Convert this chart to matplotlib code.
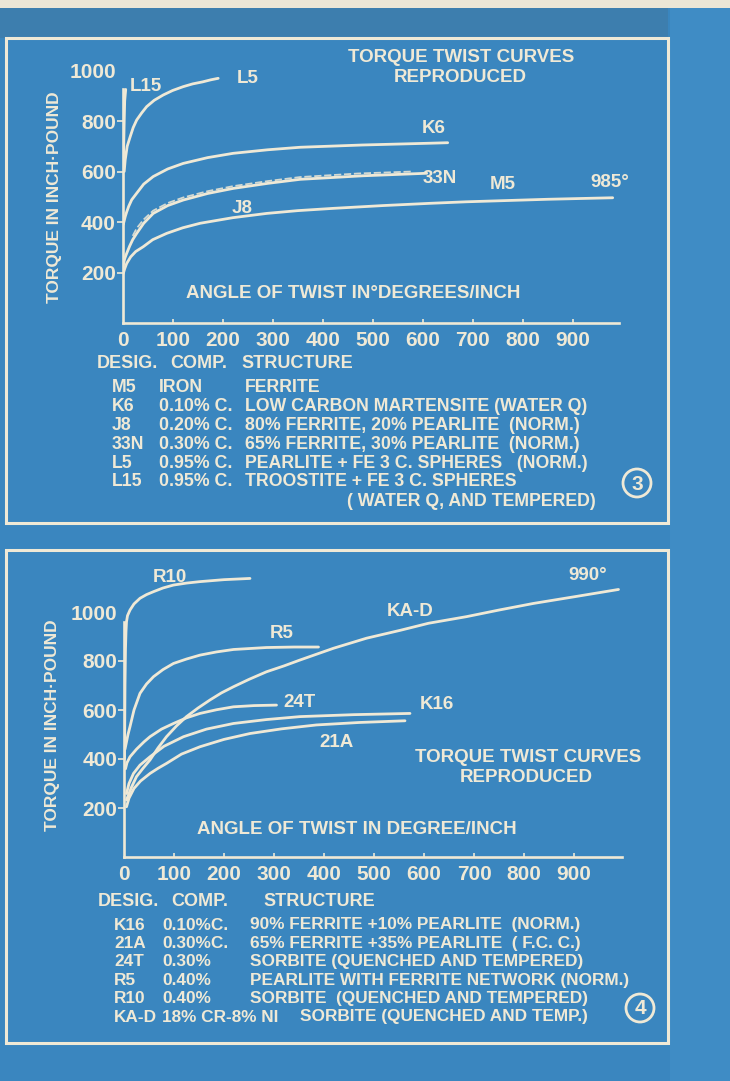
"""torque twist curves, blueprint style (two panels)"""

import matplotlib.pyplot as plt
from matplotlib.patches import Rectangle, Circle

W, H = 730, 1081

# ---- panel 3 curves (angle deg/inch, torque inch-pound) ----
L15_X = [1, 2, 3, 4, 6]
L15_Y = [600, 700, 800, 880, 925]
L5_X = [3, 5, 9, 15, 21, 28, 38, 48, 63, 81, 100, 121, 140, 160, 176, 191]
L5_Y = [600, 646, 700, 738, 774, 804, 832, 857, 882, 903, 921, 936, 947, 955, 963, 969]
K6_X = [1, 3, 5, 8, 12, 18, 28, 42, 61, 90, 121, 170, 221, 290, 355, 480, 615, 650]
K6_Y = [390, 405, 421, 440, 462, 488, 514, 550, 580, 610, 632, 655, 672, 686, 696, 705, 712, 714]
N33_X = [1, 4, 8, 14, 20, 28, 42, 61, 90, 121, 170, 221, 290, 355, 480, 608]
N33_Y = [230, 255, 276, 305, 330, 355, 395, 434, 465, 487, 513, 533, 553, 569, 583, 593]
J8_X = [20, 28, 42, 61, 90, 121, 170, 221, 290, 355, 470, 580]
J8_Y = [345, 375, 410, 445, 475, 497, 522, 542, 562, 578, 592, 600]
M5_X = [1, 4, 8, 16, 26, 41, 60, 88, 120, 155, 220, 288, 350, 421, 520, 615, 687, 850, 980]
M5_Y = [195, 215, 236, 262, 283, 302, 330, 355, 377, 395, 417, 434, 445, 454, 465, 474, 480, 490, 496]

# ---- panel 4 curves ----
R10_X = [1, 2, 3, 4, 5, 7, 12, 20, 32, 45, 59, 78, 99, 125, 152, 200, 252]
R10_Y = [400, 700, 850, 920, 960, 985, 1008, 1033, 1056, 1071, 1083, 1098, 1110, 1118, 1124, 1132, 1137]
R5_X = [2, 5, 8, 12, 20, 32, 45, 59, 78, 99, 125, 152, 185, 219, 285, 340, 389]
R5_Y = [440, 470, 500, 532, 600, 668, 706, 736, 765, 790, 808, 824, 837, 847, 855, 857, 857]
KAD_X = [5, 15, 25, 38, 52, 68, 85, 105, 125, 148, 172, 195, 219, 250, 285, 320, 352,
         419, 485, 552, 609, 685, 750, 819, 900, 989]
KAD_Y = [233, 285, 328, 362, 396, 445, 491, 535, 573, 608, 641, 670, 695, 725, 756, 780, 804,
         852, 893, 925, 954, 981, 1008, 1035, 1062, 1092]
T24_X = [3, 6, 12, 25, 40, 52, 75, 99, 125, 152, 185, 219, 260, 305]
T24_Y = [360, 385, 409, 440, 470, 491, 522, 545, 568, 586, 601, 613, 618, 620]
K16_X = [5, 10, 19, 32, 52, 80, 119, 165, 219, 285, 352, 460, 572]
K16_Y = [259, 300, 341, 375, 409, 452, 491, 522, 545, 561, 573, 581, 586]
A21_X = [5, 10, 20, 33, 52, 68, 85, 115, 152, 200, 252, 315, 385, 470, 562]
A21_Y = [205, 240, 280, 310, 341, 362, 382, 420, 450, 480, 504, 523, 539, 549, 556]

X_TICKS = [0, 100, 200, 300, 400, 500, 600, 700, 800, 900]
Y_TICKS = [200, 400, 600, 800, 1000]

TOP_DESIG = ["M5", "K6", "J8", "33N", "L5", "L15"]
TOP_COMP = ["IRON", "0.10% C.", "0.20% C.", "0.30% C.", "0.95% C.", "0.95% C."]
TOP_STRUCT = [
    "FERRITE",
    "LOW CARBON MARTENSITE (WATER Q)",
    "80% FERRITE, 20% PEARLITE  (NORM.)",
    "65% FERRITE, 30% PEARLITE  (NORM.)",
    "PEARLITE + FE 3 C. SPHERES   (NORM.)",
    "TROOSTITE + FE 3 C. SPHERES",
]
TOP_EXTRA = "( WATER Q, AND TEMPERED)"

BOT_DESIG = ["K16", "21A", "24T", "R5", "R10", "KA-D"]
BOT_COMP = ["0.10%C.", "0.30%C.", "0.30%", "0.40%", "0.40%", "18% CR-8% NI"]
BOT_STRUCT = [
    "90% FERRITE +10% PEARLITE  (NORM.)",
    "65% FERRITE +35% PEARLITE  ( F.C. C.)",
    "SORBITE (QUENCHED AND TEMPERED)",
    "PEARLITE WITH FERRITE NETWORK (NORM.)",
    "SORBITE  (QUENCHED AND TEMPERED)",
    "SORBITE (QUENCHED AND TEMP.)",
]

PAPER = "#3a86bf"
BAND = "#3d7eae"
RIGHT = "#3f8cc5"
INK = "#efe9d6"

plt.rcParams["font.family"] = ["Liberation Sans", "DejaVu Sans"]
plt.rcParams["font.weight"] = "bold"

fig = plt.figure(figsize=(W / 100, H / 100), dpi=100, facecolor=PAPER)

# pixel-space overlay for frames and lettering
bg = fig.add_axes([0, 0, 1, 1], zorder=0)
bg.set_xlim(0, W)
bg.set_ylim(H, 0)
bg.axis("off")

bg.add_patch(Rectangle((0, 0), W, 8, color="#ebe6d6", lw=0))
bg.add_patch(Rectangle((0, 8), 668, 30, color=BAND, lw=0))
bg.add_patch(Rectangle((670, 8), W - 670, H, color=RIGHT, lw=0))
for y0, y1 in [(38, 523), (550, 1043)]:
    bg.add_patch(Rectangle((6, y0), 662, y1 - y0, fill=False, ec=INK, lw=2.2))


def px_axes(x0, y0, xpx, ypx, xmax, ymax):
    """axes whose data origin sits at pixel (x0, y0)"""
    w = xmax * xpx
    h = ymax * ypx
    ax = fig.add_axes([x0 / W, 1 - y0 / H, w / W, h / H], zorder=1)
    ax.set_xlim(0, xmax)
    ax.set_ylim(0, ymax)
    ax.patch.set_alpha(0)
    for s in ax.spines.values():
        s.set_visible(False)
    return ax


def style_axes(ax, ytop, xend):
    ax.plot([0, 0], [0, ytop], color=INK, lw=1.9, clip_on=False)
    ax.plot([0, xend], [0, 0], color=INK, lw=1.9, clip_on=False)
    ax.set_xticks(X_TICKS)
    ax.set_xticklabels([str(v) for v in X_TICKS])
    ax.set_yticks(Y_TICKS)
    ax.set_yticklabels([str(v) for v in Y_TICKS])
    ax.tick_params(axis="x", direction="in", length=3, width=1.2, color=INK,
                   labelcolor=INK, labelsize=15, pad=6)
    ax.tick_params(axis="y", direction="out", length=4, width=1.2, color=INK,
                   labelcolor=INK, labelsize=15, pad=1)
    ax.xaxis.get_major_ticks()[0].tick1line.set_visible(False)
    ax.yaxis.get_major_ticks()[-1].tick1line.set_visible(False)


def curve(ax, xs, ys, **kw):
    ax.plot(xs, ys, color=INK, lw=2.0, solid_capstyle="round",
            solid_joinstyle="round", **kw)


def label(ax, x, y, s, size=13.5):
    ax.text(x, y, s, color=INK, fontsize=size, ha="center", va="center")


# ---------- panel 3 ----------
ax1 = px_axes(122.7, 323, 0.5, 0.2525, 1000, 1000)
style_axes(ax1, 925, 993)
curve(ax1, L15_X, L15_Y)
curve(ax1, L5_X, L5_Y)
curve(ax1, K6_X, K6_Y)
curve(ax1, N33_X, N33_Y)
ax1.plot(J8_X, J8_Y, color=INK, lw=1.3, ls=(0, (4, 1.5)), alpha=0.85)
curve(ax1, M5_X, M5_Y)
label(ax1, 46, 935, "L15")
label(ax1, 249, 970, "L5")
label(ax1, 621, 772, "K6")
label(ax1, 635, 574, "33N")
label(ax1, 761, 547, "M5")
label(ax1, 975, 556, "985°")
label(ax1, 239, 455, "J8")

bg.text(461, 58, "TORQUE TWIST CURVES", color=INK, fontsize=13.5, ha="center", va="center")
bg.text(460, 78, "REPRODUCED", color=INK, fontsize=13.5, ha="center", va="center")
bg.text(353, 294, "ANGLE OF TWIST IN°DEGREES/INCH", color=INK, fontsize=13.5,
        ha="center", va="center")
bg.text(55, 197, "TORQUE IN INCH·POUND", color=INK, fontsize=12.5, rotation=90,
        ha="center", va="center")

# legend table 3
bg.text(97, 363, "DESIG.", color=INK, fontsize=13, va="center")
bg.text(170, 363, "COMP.", color=INK, fontsize=13, va="center")
bg.text(241, 363, "STRUCTURE", color=INK, fontsize=13, va="center")
for i, (d, c, s) in enumerate(zip(TOP_DESIG, TOP_COMP, TOP_STRUCT)):
    y = 388 + i * 18.8
    bg.text(112, y, d, color=INK, fontsize=12.8, va="center")
    bg.text(159, y, c, color=INK, fontsize=12.8, va="center")
    bg.text(245, y, s, color=INK, fontsize=12.8, va="center")
bg.text(347, 501, TOP_EXTRA, color=INK, fontsize=12.8, va="center")
bg.add_patch(Circle((637, 483), 14, fill=False, ec=INK, lw=2))
bg.text(637, 484, "3", color=INK, fontsize=15, ha="center", va="center")

# ---------- panel 4 ----------
ax2 = px_axes(124, 857, 0.5, 0.245, 1000, 1200)
style_axes(ax2, 960, 995)
curve(ax2, R10_X, R10_Y)
curve(ax2, R5_X, R5_Y)
curve(ax2, KAD_X, KAD_Y)
curve(ax2, T24_X, T24_Y)
curve(ax2, K16_X, K16_Y)
curve(ax2, A21_X, A21_Y)
label(ax2, 92, 1139, "R10")
label(ax2, 316, 914, "R5")
label(ax2, 352, 629, "24T")
label(ax2, 626, 621, "K16")
label(ax2, 426, 469, "21A")
label(ax2, 572, 1004, "KA-D")
label(ax2, 928, 1147, "990°")

bg.text(528, 758, "TORQUE TWIST CURVES", color=INK, fontsize=13.5, ha="center", va="center")
bg.text(526, 777, "REPRODUCED", color=INK, fontsize=13.5, ha="center", va="center")
bg.text(357, 830, "ANGLE OF TWIST IN DEGREE/INCH", color=INK, fontsize=13.5,
        ha="center", va="center")
bg.text(53, 725, "TORQUE IN INCH·POUND", color=INK, fontsize=12.5, rotation=90,
        ha="center", va="center")

bg.text(98, 902, "DESIG.", color=INK, fontsize=13, va="center")
bg.text(171, 902, "COMP.", color=INK, fontsize=13, va="center")
bg.text(263, 902, "STRUCTURE", color=INK, fontsize=13, va="center")
struct_x = [250, 250, 250, 250, 250, 300]
for i, (d, c, s) in enumerate(zip(BOT_DESIG, BOT_COMP, BOT_STRUCT)):
    y = 925 + i * 18.4
    bg.text(114, y, d, color=INK, fontsize=12.4, va="center")
    bg.text(162, y, c, color=INK, fontsize=12.4, va="center")
    bg.text(struct_x[i], y, s, color=INK, fontsize=12.4, va="center")
bg.add_patch(Circle((640, 1008), 14, fill=False, ec=INK, lw=2))
bg.text(640, 1009, "4", color=INK, fontsize=15, ha="center", va="center")

fig.savefig("out.png", dpi=100, facecolor=PAPER)
